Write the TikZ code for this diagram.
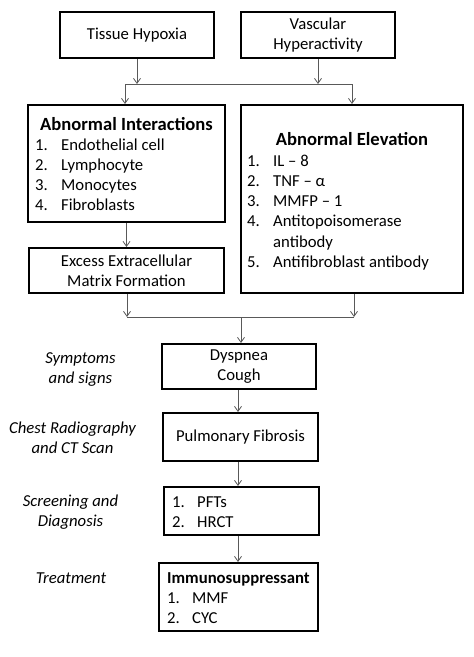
\documentclass[tikz,border=0pt]{standalone}
\usepackage{fontspec}
\setmainfont{Carlito}
\usetikzlibrary{arrows.meta}
\begin{document}
\begin{tikzpicture}[x=1pt,y=-1pt,
  box/.style={draw=black,line width=2pt,inner sep=0pt},
  txt/.style={font=\fontsize{16.7}{20}\selectfont,inner sep=0pt},
  btxt/.style={font=\fontsize{18.6}{20}\selectfont\bfseries,inner sep=0pt},
  sbtxt/.style={font=\fontsize{16.7}{20}\selectfont\bfseries,inner sep=0pt},
  lbl/.style={font=\fontsize{16.7}{20}\selectfont\itshape,align=center,inner sep=0pt},
  con/.style={draw=black!65,line width=0.8pt},
  arr/.style={con,-{Straight Barb[length=5pt,width=7pt]}}]
\useasboundingbox[fill=white] (0,0) rectangle (474,657);

% top boxes
\node[box,txt,align=center,minimum width=154pt,minimum height=46pt] (th) at (137,35) {Tissue Hypoxia};
\node[box,txt,align=center,minimum width=154pt,minimum height=46pt] (vh) at (318,35) {Vascular\\Hyperactivity};

% abnormal interactions
\node[box,minimum width=197pt,minimum height=117pt] (ai) at (126.5,163.5) {};
\node[btxt,anchor=base] (aih) at (126.5,130) {Abnormal Interactions};
\node[txt,anchor=base west] (ai1) at (35,150.5) {\makebox[26pt][l]{1.}Endothelial cell};
\node[txt,anchor=base west] (ai2) at (35,170.5) {\makebox[26pt][l]{2.}Lymphocyte};
\node[txt,anchor=base west] (ai3) at (35,190.5) {\makebox[26pt][l]{3.}Monocytes};
\node[txt,anchor=base west] (ai4) at (35,210.5) {\makebox[26pt][l]{4.}Fibroblasts};

% abnormal elevation
\node[box,minimum width=222pt,minimum height=188pt] (ae) at (352,199) {};
\node[btxt,anchor=base] (aeh) at (352,145) {Abnormal Elevation};
\node[txt,anchor=base west] (ae1) at (247,166.5) {\makebox[26pt][l]{1.}IL – 8};
\node[txt,anchor=base west] (ae2) at (247,186.5) {\makebox[26pt][l]{2.}TNF – α};
\node[txt,anchor=base west] (ae3) at (247,206.5) {\makebox[26pt][l]{3.}MMFP – 1};
\node[txt,anchor=base west] (ae4) at (247,226.5) {\makebox[26pt][l]{4.}Antitopoisomerase};
\node[txt,anchor=base west] (ae4b) at (273,247) {antibody};
\node[txt,anchor=base west] (ae5) at (247,267.5) {\makebox[26pt][l]{5.}Antifibroblast antibody};

% excess ECM
\node[box,txt,align=center,minimum width=195pt,minimum height=45pt] (ee) at (126.5,270.5) {Excess Extracellular\\Matrix Formation};

% central column
\node[box,txt,align=center,minimum width=154pt,minimum height=45pt] (dc) at (239,366.5) {Dyspnea\\Cough};
\node[box,txt,align=center,minimum width=155pt,minimum height=48pt] (pf) at (240.5,437) {Pulmonary Fibrosis};
\node[box,minimum width=155pt,minimum height=48pt] (sd) at (241.5,511) {};
\node[txt,anchor=base west] (sd1) at (172,507.5) {\makebox[25pt][l]{1.}PFTs};
\node[txt,anchor=base west] (sd2) at (172,527.5) {\makebox[25pt][l]{2.}HRCT};
\node[box,minimum width=159pt,minimum height=68pt] (im) at (238.5,597) {};
\node[sbtxt,anchor=base west] (imh) at (167,583.5) {Immunosuppressant};
\node[txt,anchor=base west] (im1) at (167,603.5) {\makebox[25pt][l]{1.}MMF};
\node[txt,anchor=base west] (im2) at (167,623.5) {\makebox[25pt][l]{2.}CYC};

% side labels
\node[lbl] (l1) at (80.5,370) {Symptoms\\and signs};
\node[lbl] (l2) at (72.5,438) {Chest Radiography\\and CT Scan};
\node[lbl] (l3) at (70.5,512) {Screening and\\Diagnosis};
\node[lbl] (l4) at (71,578) {Treatment};

% connectors
\coordinate (j1) at (125,84);
\coordinate (j2) at (352,84);
\draw[arr] (th.south) -- (th.south |- j1);
\draw[arr] (vh.south) -- (vh.south |- j1);
\draw[con] (j1) -- (j2);
\draw[arr] (j1) -- (j1 |- ai.north);
\draw[arr] (j2) -- (j2 |- ae.north);
\draw[arr] (ai.south) -- (ee.north);
\coordinate (j3) at (127,317);
\coordinate (j4) at (354,317);
\coordinate (j5) at (241,317);
\draw[arr] (ee.south -| j3) -- (j3);
\draw[arr] (ae.south -| j4) -- (j4);
\draw[con] (j3) -- (j4);
\draw[arr] (j5) -- (j5 |- dc.north);
\draw[arr] (dc.south -| 238,0) -- (238,0 |- pf.north);
\draw[arr] (pf.south -| 238,0) -- (238,0 |- sd.north);
\draw[arr] (sd.south -| 238,0) -- (238,0 |- im.north);
\end{tikzpicture}
\end{document}
